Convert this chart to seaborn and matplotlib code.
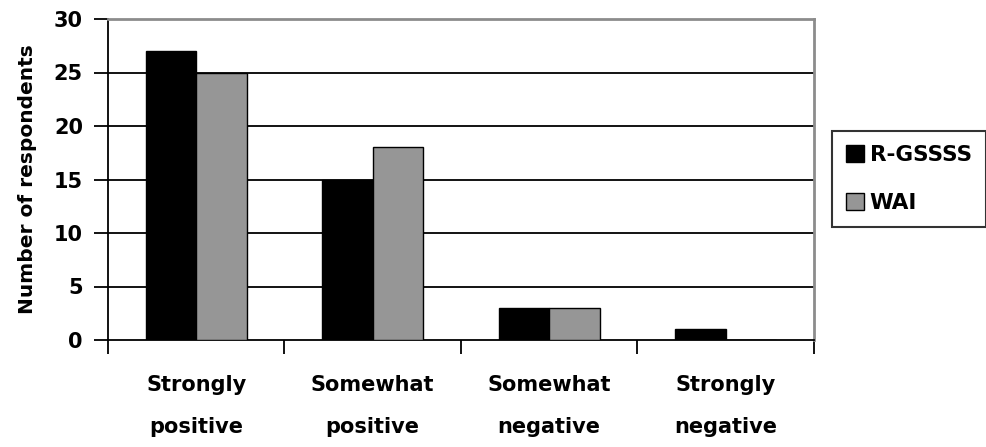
import matplotlib
matplotlib.use("Agg")
import matplotlib.pyplot as plt
import seaborn as sns
import pandas as pd
from matplotlib.patches import Patch

categories = ["Strongly\npositive", "Somewhat\npositive", "Somewhat\nnegative", "Strongly\nnegative"]
series = ["R-GSSSS", "WAI"]
r_gssss = [27, 15, 3, 1]
wai = [25, 18, 3, 0]
y_ticks = [0, 5, 10, 15, 20, 25, 30]

df = pd.DataFrame({
    "category": categories * 2,
    "series": [series[0]] * 4 + [series[1]] * 4,
    "value": r_gssss + wai,
})

FONT = ["DejaVu Sans"]

sns.set_theme(style="white")
plt.rcParams["font.family"] = FONT
plt.rcParams["font.weight"] = "bold"
plt.rcParams["text.color"] = "black"
plt.rcParams["axes.labelcolor"] = "black"
plt.rcParams["xtick.color"] = "black"
plt.rcParams["ytick.color"] = "black"

fig = plt.figure(figsize=(9.87, 4.47), dpi=100)
ax = fig.add_axes([108 / 987, 1 - 340 / 447, (814 - 108) / 987, (340 - 19) / 447])

colors = {"R-GSSSS": "#000000", "WAI": "#969696"}
sns.barplot(data=df, x="category", y="value", hue="series", palette=colors,
            width=0.575, edgecolor="black", linewidth=1.0, ax=ax, legend=False,
            zorder=3)

ax.set_ylim(0, 30)
ax.set_xlim(-0.5, 3.5)
ax.set_yticks(y_ticks)
ax.set_yticklabels([str(t) for t in y_ticks], fontsize=15, fontweight="bold")
for t in y_ticks[1:-1]:
    ax.axhline(t, color="black", linewidth=1.3, zorder=1)

# category boundary ticks on the x-axis
ax.set_xticks([-0.5, 0.5, 1.5, 2.5, 3.5], minor=False)
ax.set_xticklabels([])
ax.set_xticks([0, 1, 2, 3], minor=True)
ax.set_xticklabels(categories, minor=True, fontsize=15, fontweight="bold",
                   linespacing=2.4)
ax.tick_params(axis="x", which="major", direction="out", length=10, width=1.3,
               color="black", bottom=True)
ax.tick_params(axis="x", which="minor", length=0, pad=25)
ax.tick_params(axis="y", direction="out", length=10, width=1.3, color="black",
               left=True, pad=8)

ax.set_xlabel("")
ax.set_ylabel("Number of respondents", fontsize=14.5, fontweight="bold",
              color="black", labelpad=12)

for side in ["left", "bottom"]:
    ax.spines[side].set_color("black")
    ax.spines[side].set_linewidth(1.3)
for side in ["top", "right"]:
    ax.spines[side].set_visible(True)
    ax.spines[side].set_color("#8c8c8c")
    ax.spines[side].set_linewidth(2)

handles = [Patch(facecolor=colors[s], edgecolor="black", label=s) for s in series]
leg = fig.legend(handles=handles, loc="center left",
                 bbox_to_anchor=(832 / 987, 1 - 179 / 447),
                 frameon=True, fancybox=False, edgecolor="black",
                 prop={"family": FONT, "weight": "bold", "size": 15.5},
                 handlelength=0.85, handleheight=0.85, handletextpad=0.25,
                 labelspacing=1.3, borderpad=0.65, borderaxespad=0)
leg.get_frame().set_linewidth(1.5)
leg.get_frame().set_edgecolor("black")
for txt in leg.get_texts():
    txt.set_color("black")

fig.savefig("out.png", dpi=100)
